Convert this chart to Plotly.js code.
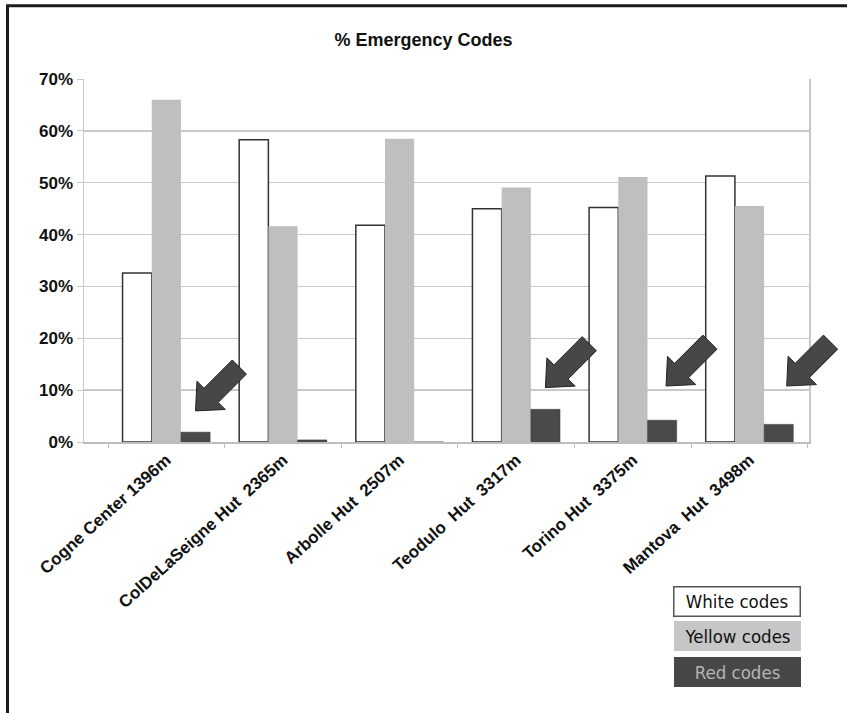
<!DOCTYPE html>
<html>
<head>
<meta charset="utf-8">
<script src="https://cdn.plot.ly/plotly-3.0.1.min.js"></script>
<style>
  html, body { margin: 0; padding: 0; background: #fff; overflow: hidden; }
  #chart { width: 847px; height: 713px; }
</style>
</head>
<body>
<div id="chart"></div>
<script>
// ---- data ----
const categories = ["Cogne Center 1396m", "ColDeLaSeigne Hut  2365m", "Arbolle Hut  2507m",
                    "Teodulo  Hut  3317m", "Torino Hut  3375m", "Mantova  Hut  3498m"];
const whiteCodes  = [32.6, 58.3, 41.8, 45.0, 45.2, 51.3];
const yellowCodes = [66.0, 41.6, 58.5, 49.1, 51.1, 45.5];
const redCodes    = [1.9, 0.4, 0.0, 6.3, 4.2, 3.4];
const seriesNames = ["White codes", "Yellow codes", "Red codes"];
const yTicks = [0, 10, 20, 30, 40, 50, 60, 70];

// arrows pointing at red bars (category index, tip height in %, pixel x offset)
const arrowCats = [0, 3, 4, 5];
const arrowTipY = [6.0, 10.5, 10.8, 10.8];
const arrowDx   = [0, 0, 4, 8];

// ---- styles ----
const whiteFill = "#ffffff", yellowFill = "#bfbfbf", redFill = "#4a4a4a";
const xRange = [-0.706, 5.51];
const bargap = 0.249;

const traces = [
  {type: "bar", name: seriesNames[0], x: categories, y: whiteCodes,
   marker: {color: whiteFill, line: {color: "#333", width: 1.5}}},
  {type: "bar", name: seriesNames[1], x: categories, y: yellowCodes,
   marker: {color: yellowFill, line: {color: yellowFill, width: 0}}},
  {type: "bar", name: seriesNames[2], x: categories, y: redCodes,
   marker: {color: redFill, line: {color: "#3a3a3a", width: 0.5}}}
];

// block arrow path (pixel coords relative to tip, y up)
function arrowPath(dx) {
  const L = 62, H = 22, HW = 20, SW = 10, s = Math.SQRT1_2;
  const pts = [[0,0],[H,HW],[H,SW],[L,SW],[L,-SW],[H,-SW],[H,-HW]];
  return pts.map((p, i) => {
    const x = (p[0] + p[1]) * s + dx, y = (p[0] - p[1]) * s;
    return (i === 0 ? "M" : "L") + x.toFixed(2) + "," + y.toFixed(2);
  }).join(" ") + " Z";
}
const barW = (1 - bargap) / 3;
const toPaperX = v => (v - xRange[0]) / (xRange[1] - xRange[0]);
const shapes = arrowCats.map((c, i) => ({
  type: "path", xref: "paper", yref: "y", xsizemode: "pixel", ysizemode: "pixel",
  xanchor: toPaperX(c + barW), yanchor: arrowTipY[i], path: arrowPath(arrowDx[i]),
  fillcolor: "#474747", line: {color: "#222", width: 1}, layer: "above"
}));
// outer frame (left and top edges of the scanned figure)
const px = v => (v - 84) / 725, py = v => (442.7 - v) / 363.7;
shapes.push({type: "line", xref: "paper", yref: "paper", x0: px(7.5), x1: px(7.5), y0: py(5), y1: py(720),
             line: {color: "#1c1c1c", width: 3}});
shapes.push({type: "line", xref: "paper", yref: "paper", x0: px(6), x1: px(860), y0: py(5.5), y1: py(5.5),
             line: {color: "#1c1c1c", width: 3}});

// legend boxes as annotations
const legendFill = [whiteFill, "#c6c6c6", "#474747"];
const legendBorder = ["#555", "#c6c6c6", "#474747"];
const legendText = ["#111", "#111", "#b4b4b4"];
const legendY = [603, 637.5, 673.5];
const annotations = seriesNames.map((n, i) => ({
  xref: "paper", yref: "paper",
  x: px(737), y: py(legendY[i]),
  xanchor: "center", yanchor: "middle", showarrow: false,
  text: n, width: 125, height: 28, borderpad: 0,
  bgcolor: legendFill[i], bordercolor: legendBorder[i], borderwidth: i === 0 ? 1.5 : 1,
  font: {family: "DejaVu Sans Condensed, DejaVu Sans, sans-serif", size: 18.5, color: legendText[i]}
}));

const layout = {
  width: 847, height: 713,
  margin: {l: 84, r: 38, t: 79, b: 271},
  paper_bgcolor: "#fff", plot_bgcolor: "#fff",
  showlegend: false,
  barmode: "group", bargap: bargap, bargroupgap: 0,
  title: {text: "% Emergency Codes", xref: "container", x: 0.5, xanchor: "center",
          yref: "container", y: 1 - 40 / 713, yanchor: "middle",
          font: {family: "Liberation Sans, Arial, sans-serif", size: 18, color: "#111", weight: "bold"}},
  xaxis: {type: "category", range: xRange, tickangle: -42,
          tickfont: {family: "Liberation Sans, Arial, sans-serif", size: 17, color: "#111", weight: "bold"},
          showline: true, linecolor: "#bdbdbd", linewidth: 1.5,
          ticks: "outside", tickson: "boundaries", ticklen: 4, tickcolor: "#bdbdbd",
          showgrid: false, zeroline: false, fixedrange: true},
  yaxis: {range: [0, 70], tickvals: yTicks, ticktext: yTicks.map(v => v + "%"),
          tickfont: {family: "Liberation Sans, Arial, sans-serif", size: 17, color: "#111", weight: "bold"},
          showgrid: true, gridcolor: "#c8c8c8", gridwidth: 1.5,
          showline: true, linecolor: "#c8c8c8", linewidth: 1.5, mirror: true,
          ticks: "outside", ticklen: 6, tickcolor: "#c8c8c8", zeroline: false, fixedrange: true},
  shapes: shapes,
  annotations: annotations
};

Plotly.newPlot("chart", traces, layout, {displayModeBar: false, staticPlot: true});
</script>
</body>
</html>
